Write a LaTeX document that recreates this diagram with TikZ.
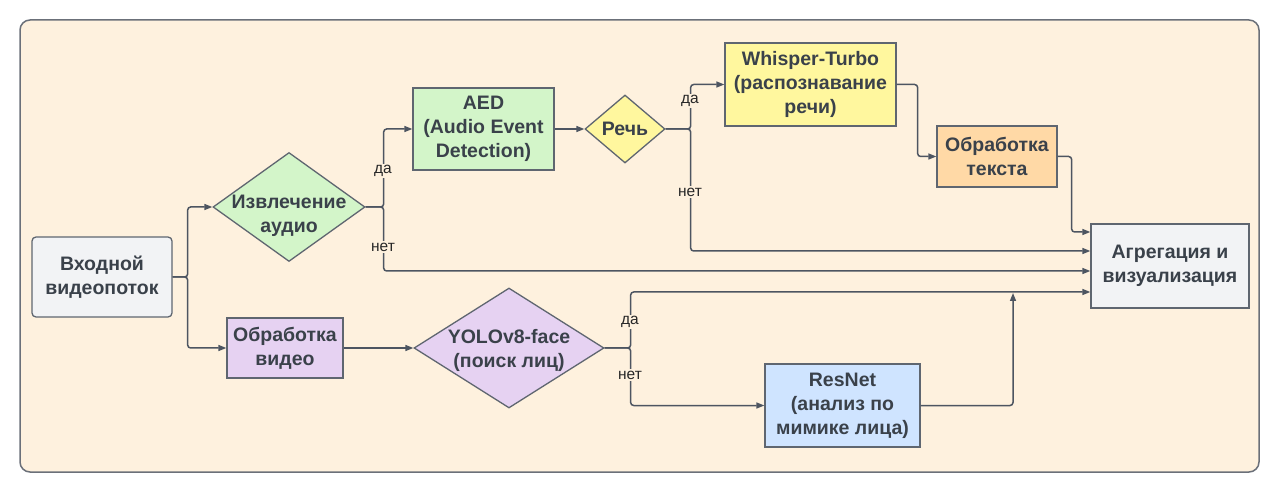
\documentclass[tikz,border=0pt]{standalone}
\usepackage{fontspec}
\setmainfont{Liberation Sans}
\usepackage{xcolor}
\usepackage{tikz}
\usetikzlibrary{shapes.geometric,arrows.meta}

\definecolor{crema}{HTML}{FEF1DE}
\definecolor{marco}{HTML}{6B7079}
\definecolor{borde}{HTML}{5F6670}
\definecolor{linea}{HTML}{4D5561}
\definecolor{tinta}{HTML}{3A414A}
\definecolor{gris}{HTML}{F2F3F5}
\definecolor{verde}{HTML}{D3F5C9}
\definecolor{lila}{HTML}{E6D2F2}
\definecolor{amarillo}{HTML}{FFF79E}
\definecolor{naranja}{HTML}{FFD9A6}
\definecolor{azul}{HTML}{CFE4FF}

\begin{document}
\begin{tikzpicture}[x=1pt, y=-1pt, >={Triangle[length=8pt,width=6pt]},
    txt/.style={font=\bfseries\fontsize{19.5}{24}\selectfont, text=tinta, align=center},
    caja/.style={txt, draw=borde, line width=1.3pt, inner sep=0pt},
    rombo/.style={draw=borde, line width=1.3pt, diamond, inner sep=0pt},
    flecha/.style={draw=linea, line width=1.5pt, ->, rounded corners=3pt},
    etq/.style={font=\fontsize{15.5}{18}\selectfont, text=black!85, fill=crema, inner sep=1.5pt}]
    \useasboundingbox (0,0) rectangle (1280,494);
    % Fondo
    \draw[marco, fill=crema, line width=1.5pt, rounded corners=10pt] (20,20) rectangle (1259,472);

    % Nodos
    \node[caja, fill=gris, rounded corners=4pt, minimum width=140, minimum height=80] (entrada) at (102,277) {Входной\\видеопоток};
    \node[rombo, fill=verde, minimum width=152, minimum height=109] (audio) at (289,207) {};
    \node[txt] (audio-t) at ([yshift=-9pt]audio.center) {Извлечение\\аудио};
    \node[caja, fill=lila, minimum width=116, minimum height=60] (video) at (285,348) {Обработка\\видео};
    \node[rombo, fill=lila, minimum width=190, minimum height=120] (yolo) at (509,348) {};
    \node[txt] (yolo-t) at ([yshift=-2.5pt]yolo.center) {YOLOv8-face\\(поиск лиц)};
    \node[caja, fill=verde, minimum width=141, minimum height=82] (aed) at (483.5,129) {AED\\(Audio Event\\Detection)};
    \node[rombo, fill=amarillo, minimum width=80, minimum height=68] (habla) at (625,129) {};
    \node[txt] (habla-t) at (habla) {Речь};
    \node[caja, fill=amarillo, minimum width=171, minimum height=83] (whisper) at (810.5,84.5) {Whisper-Turbo\\(распознавание\\речи)};
    \node[caja, fill=naranja, minimum width=120, minimum height=61] (texto) at (997,156.5) {Обработка\\текста};
    \node[caja, fill=gris, minimum width=158, minimum height=84] (agreg) at (1170,266) {Агрегация и\\визуализация};
    \node[caja, fill=azul, minimum width=155, minimum height=83] (resnet) at (842.5,405.5) {ResNet\\(анализ по\\мимике лица)};
    \coordinate (union) at (1013,293);

    % Conexiones
    \draw[flecha] (entrada.east) -- ++(15,0) |- (audio.west);
    \draw[flecha] (entrada.east) -- ++(15,0) |- (video.west);
    \draw[flecha] (audio.east) -- ++(18,0) |- (aed.west);
    \draw[flecha] (audio.east) -- ++(18,0) |- ([yshift=-5pt]agreg.west);
    \draw[flecha] (aed.east) -- (habla.west);
    \draw[flecha] (habla.east) -- ++(25,0) |- (whisper.west);
    \draw[flecha] (habla.east) -- ++(25,0) |- ([yshift=15pt]agreg.west);
    \draw[flecha] (whisper.east) -- ++(21,0) |- (texto.west);
    \draw[flecha] (texto.east) -- ++(14,0) |- ([yshift=34pt]agreg.west);
    \draw[flecha] (video.east) -- (yolo.west);
    \draw[flecha] (yolo.east) -- ++(26,0) |- ([yshift=-26pt]agreg.west);
    \draw[flecha] (yolo.east) -- ++(26,0) |- (resnet.west);
    \draw[flecha] (resnet.east) -| (union);

    % Etiquetas da / net
    \node[etq] (si1) at (383,171) {да};
    \node[etq] (no1) at (383,247) {нет};
    \node[etq] (si2) at (690,101) {да};
    \node[etq] (no2) at (690,192) {нет};
    \node[etq] (si3) at (630,322) {да};
    \node[etq] (no3) at (630,375) {нет};

\end{tikzpicture}
\end{document}
